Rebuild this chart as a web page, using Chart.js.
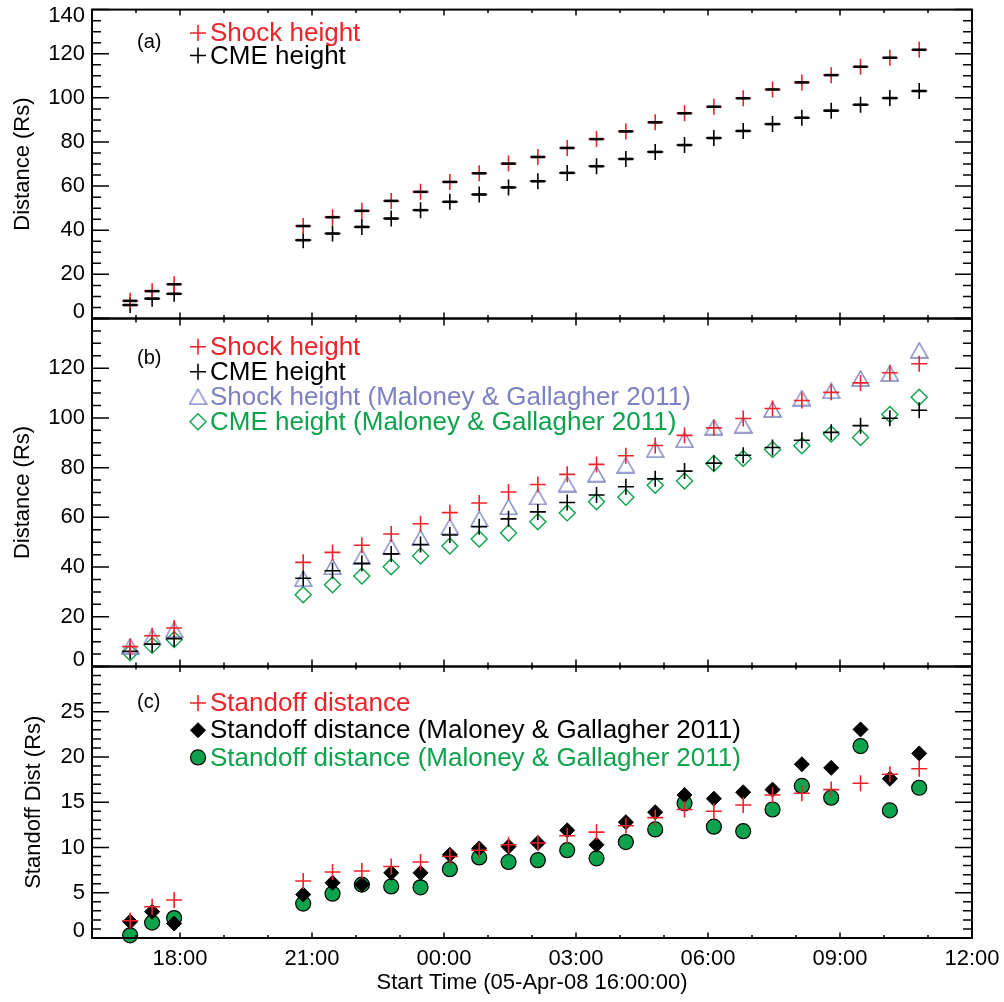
<!DOCTYPE html>
<html lang="en">
<head>
<meta charset="UTF-8">
<title>Shock and CME heights, 05-Apr-08</title>
<script src="https://cdn.jsdelivr.net/npm/chart.js"></script>
<style>
  body { margin: 0; background: #fff; }
  #wrap { position: relative; width: 1004px; height: 1002px; }
  #wrap canvas { position: absolute; left: 0; top: 0; }
</style>
</head>
<body>
<div id="wrap">
  <canvas id="panelA" width="1004" height="1002"></canvas>
  <canvas id="panelB" width="1004" height="1002"></canvas>
  <canvas id="panelC" width="1004" height="1002"></canvas>
</div>
<script>
// observation times (UT), start 05-Apr-08 16:00:00
const times = ['16:52', '17:22', '17:52',
  '20:48', '21:28', '22:08', '22:48', '23:28', '00:08', '00:48', '01:28', '02:08', '02:48', '03:28',
  '04:08', '04:48', '05:28', '06:08', '06:48', '07:28', '08:08', '08:48', '09:28', '10:08', '10:48'];
const xTickLabels = ['18:00', '21:00', '00:00', '03:00', '06:00', '09:00', '12:00'];

// heights in Rs
const shockHeight = [8.0, 12.4, 15.5,
  41.9, 45.9, 48.8, 53.3, 57.4, 61.9, 65.8, 70.2, 73.2, 77.3, 81.3,
  84.8, 88.9, 93.0, 96.0, 99.8, 103.8, 107.0, 110.3, 114.1, 118.2, 121.8];
const cmeHeight = [6.1, 9.0, 11.2,
  35.5, 38.5, 41.5, 45.3, 49.1, 52.9, 56.2, 59.4, 62.2, 66.0, 69.0,
  72.3, 75.5, 78.6, 81.8, 85.0, 88.1, 91.0, 94.2, 96.9, 99.9, 103.1];
const shockHeightMG = [8.2, 11.9, 14.8,
  35.3, 40.1, 44.1, 48.1, 51.7, 56.2, 59.4, 64.2, 68.2, 73.4, 77.4,
  81.0, 87.2, 91.2, 96.3, 97.1, 103.4, 108.0, 110.9, 115.9, 117.9, 127.2];
const cmeHeightMG = [5.5, 8.5, 10.9,
  28.9, 32.9, 36.4, 40.1, 44.5, 48.5, 51.3, 53.7, 58.2, 61.8, 66.3,
  68.1, 72.9, 74.6, 81.7, 83.7, 87.3, 88.8, 93.5, 92.1, 101.4, 108.3];

// standoff distance in Rs
const standoff = [1.9, 3.45, 4.2,
  6.3, 7.3, 7.4, 7.9, 8.4, 9.0, 9.7, 10.3, 10.5, 11.3, 11.7,
  12.4, 13.3, 14.2, 14.0, 14.7, 15.8, 16.0, 16.4, 17.1, 18.1, 18.7];
const standoffMG1 = [1.8, 2.9, 1.6,
  4.8, 6.1, 5.9, 7.2, 7.2, 9.2, 9.9, 10.1, 10.5, 11.9, 10.3,
  12.8, 13.9, 15.8, 15.4, 16.1, 16.4, 19.2, 18.8, 23.05, 17.6, 20.4];
const standoffMG2 = [0.3, 1.7, 2.2,
  3.8, 4.9, 5.9, 5.7, 5.6, 7.6, 8.9, 8.4, 8.6, 9.7, 8.8,
  10.6, 12.0, 14.9, 12.3, 11.8, 14.2, 16.8, 15.5, 21.2, 14.1, 16.6];

const RED = '#ee2229';
const LILAC = '#7d80c2';
const GREEN = '#0da24c';
const FONT = "'Liberation Sans', Arial, Helvetica, sans-serif";
Chart.defaults.font.family = FONT;
Chart.defaults.color = '#000';

function hoursFrom16(t) {
  const [h, m] = t.split(':').map(Number);
  let v = h + m / 60 - 16;
  if (v < 0) v += 24;
  return v;
}
function pts(ys) {
  return times.map((t, i) => ({ x: hoursFrom16(t), y: ys[i] }));
}
function series(label, ys, style, r, stroke, fill, bw, textColor) {
  return {
    label: label, data: pts(ys), keyText: textColor,
    pointStyle: style, pointRadius: r, pointBorderWidth: bw,
    pointBorderColor: stroke, pointBackgroundColor: fill || 'rgba(0,0,0,0)',
    showLine: false, clip: false
  };
}

// open triangle centred on its box (IDL psym 5), not on its circumcentre
function triangleSymbol(color) {
  const c = document.createElement('canvas');
  c.width = 19; c.height = 17;
  const g = c.getContext('2d');
  g.strokeStyle = color;
  g.lineWidth = 1.4;
  g.beginPath();
  g.moveTo(1, 16); g.lineTo(9.5, 1); g.lineTo(18, 16); g.closePath();
  g.stroke();
  return c;
}

// IDL-like frame: box with inward major/minor ticks on all four sides
const boxTicks = {
  id: 'boxTicks',
  afterDraw(chart, args, o) {
    const { ctx, chartArea: a } = chart;
    const xs = chart.scales.x, ys = chart.scales.y;
    ctx.save();
    ctx.strokeStyle = '#000';
    ctx.lineWidth = 1.5;
    ctx.beginPath();
    for (let v = xs.min; v <= xs.max; v++) {
      const px = xs.getPixelForValue(v);
      const len = ((v - 2) % 3 === 0) ? o.xMajor : o.xMinor;
      ctx.moveTo(px, a.bottom); ctx.lineTo(px, a.bottom - len);
      ctx.moveTo(px, a.top); ctx.lineTo(px, a.top + len);
    }
    for (let v = ys.min; v <= ys.max + 1e-9; v += o.yMinorStep) {
      const py = ys.getPixelForValue(v);
      const len = (Math.abs(v / o.yMajorStep - Math.round(v / o.yMajorStep)) < 1e-6) ? o.yMajor : o.yMinor;
      ctx.moveTo(a.left, py); ctx.lineTo(a.left + len, py);
      ctx.moveTo(a.right, py); ctx.lineTo(a.right - len, py);
    }
    ctx.stroke();
    ctx.lineWidth = 2;
    ctx.strokeRect(a.left, a.top, a.right - a.left, a.bottom - a.top);
    ctx.restore();
  }
};

// in-panel key, built from the dataset styles
const keyBox = {
  id: 'keyBox',
  afterDraw(chart, args, o) {
    const ctx = chart.ctx;
    ctx.save();
    ctx.textBaseline = 'middle';
    ctx.textAlign = 'left';
    ctx.fillStyle = '#000';
    ctx.font = '20px ' + FONT;
    ctx.fillText(o.tag, 137, o.tagY);
    ctx.font = o.size + 'px ' + FONT;
    const items = chart.data.datasets.filter(d => d.keyText);
    items.forEach((d, i) => {
      const y = o.y0 + i * o.dy;
      ctx.strokeStyle = d.pointBorderColor;
      ctx.fillStyle = d.pointBackgroundColor;
      ctx.lineWidth = d.pointBorderWidth;
      Chart.helpers.drawPoint(ctx, {
        pointStyle: d.pointStyle, radius: d.pointRadius,
        borderWidth: d.pointBorderWidth, rotation: 0
      }, 198, y);
      ctx.fillStyle = d.keyText;
      ctx.fillText(d.label, 210, y + 1);
    });
    ctx.restore();
  }
};

function panel(id, o) {
  const yLabel = (v) => {
    if (v === o.ymin) return [String(v), ''];
    if (v === o.ymax) return o.topLabel ? ['', String(v)] : '';
    return String(v);
  };
  const xScale = o.showX ? {
    type: 'linear', min: 0, max: 20,
    afterBuildTicks: s => { s.ticks = xTickLabels.map(l => ({ value: hoursFrom16(l) })); },
    afterFit: s => { s.height = 64; s.paddingLeft = 0; s.paddingRight = 0; },
    grid: { display: false, drawTicks: false },
    border: { display: false },
    ticks: {
      autoSkip: false, maxRotation: 0, padding: 8, color: '#000', font: { size: 22 },
      callback: (v, i) => xTickLabels[i]
    },
    title: {
      display: true, text: 'Start Time (05-Apr-08 16:00:00)', color: '#000',
      font: { size: 22 }, padding: { top: 0, bottom: 6 }
    }
  } : { type: 'linear', min: 0, max: 20, display: false };

  return new Chart(document.getElementById(id), {
    type: 'scatter',
    data: { datasets: o.datasets },
    options: {
      responsive: false, animation: false, devicePixelRatio: 1, events: [],
      layout: { padding: { left: 0, right: 32, top: o.top, bottom: o.bottom } },
      plugins: {
        legend: { display: false }, tooltip: { enabled: false },
        boxTicks: o.ticks, keyBox: o.key
      },
      scales: {
        x: xScale,
        y: {
          min: o.ymin, max: o.ymax,
          afterFit: s => { s.width = 92; s.paddingTop = 0; s.paddingBottom = 0; },
          grid: { display: false, drawTicks: false },
          border: { display: false },
          ticks: {
            stepSize: o.ystep, autoSkip: false, padding: 7, color: '#000',
            font: { size: 22, lineHeight: 0.6 }, callback: yLabel
          },
          title: {
            display: true, text: o.ytitle, color: '#000', font: { size: 22 },
            padding: { top: o.ytitlePad, bottom: 0 }
          }
        }
      }
    },
    plugins: [boxTicks, keyBox]
  });
}

// (a)
panel('panelA', {
  top: 9.3, bottom: 1002 - 318.5, ymin: 0, ymax: 140, ystep: 20, topLabel: true,
  ytitle: 'Distance (Rs)', ytitlePad: 10,
  ticks: { xMajor: 6, xMinor: 3.5, yMajor: 17, yMinor: 9, yMajorStep: 20, yMinorStep: 5 },
  key: { tag: '(a)', tagY: 42.5, size: 26, y0: 33, dy: 22.5 },
  datasets: [
    series('', shockHeight, 'line', 7, '#000', null, 2.6, null),
    series('', cmeHeight, 'line', 7, '#000', null, 2.6, null),
    series('Shock height', shockHeight, 'cross', 8, RED, null, 1.6, RED),
    series('CME height', cmeHeight, 'cross', 8, '#000', null, 1.6, '#000')
  ]
});

// (b)
panel('panelB', {
  top: 318.5, bottom: 1002 - 666.5, ymin: 0, ymax: 140, ystep: 20, topLabel: false,
  ytitle: 'Distance (Rs)', ytitlePad: 10,
  ticks: { xMajor: 7, xMinor: 4, yMajor: 17, yMinor: 9, yMajorStep: 20, yMinorStep: 5 },
  key: { tag: '(b)', tagY: 358.3, size: 26, y0: 346.7, dy: 25 },
  datasets: [
    series('Shock height', shockHeight, 'cross', 8, RED, null, 1.6, RED),
    series('CME height', cmeHeight, 'cross', 8, '#000', null, 1.6, '#000'),
    series('Shock height (Maloney & Gallagher 2011)', shockHeightMG, triangleSymbol(LILAC), 9, LILAC, null, 1.4, LILAC),
    series('CME height (Maloney & Gallagher 2011)', cmeHeightMG, 'rectRot', 8, GREEN, null, 1.4, GREEN)
  ]
});

// (c)
panel('panelC', {
  top: 666.5, bottom: 0, ymin: 0, ymax: 30, ystep: 5, topLabel: false, showX: true,
  ytitle: 'Standoff Dist (Rs)', ytitlePad: 21,
  ticks: { xMajor: 5.5, xMinor: 3, yMajor: 17, yMinor: 9, yMajorStep: 5, yMinorStep: 1 },
  key: { tag: '(c)', tagY: 702, size: 26, y0: 703, dy: 27.2 },
  datasets: [
    series('Standoff distance', standoff, 'cross', 8, RED, null, 1.6, RED),
    series('Standoff distance (Maloney & Gallagher 2011)', standoffMG1, 'rectRot', 7.5, '#000', '#000', 1, '#000'),
    series('Standoff distance (Maloney & Gallagher 2011)', standoffMG2, 'circle', 7.5, '#000', GREEN, 1.2, GREEN)
  ]
});
</script>
</body>
</html>
